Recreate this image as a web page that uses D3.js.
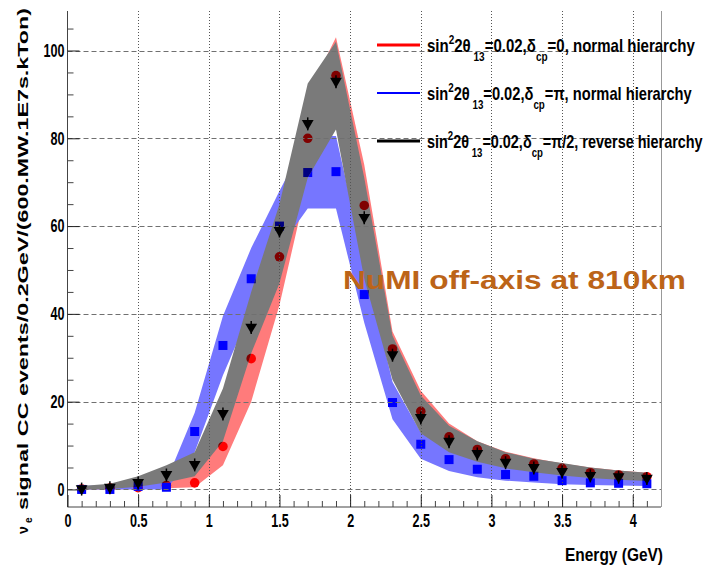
<!DOCTYPE html>
<html>
<head>
<meta charset="utf-8">
<script src="https://cdn.jsdelivr.net/npm/d3@7/dist/d3.min.js"></script>
<style>
  html, body { margin: 0; padding: 0; background: #fff; }
  svg { display: block; }
  text { font-family: "Liberation Sans", Arial, sans-serif; font-weight: bold; }
</style>
</head>
<body>
<svg id="chart" width="710" height="566"></svg>
<script>
// Bin centres (GeV), 0.2 GeV bins
const energy = [0.1, 0.3, 0.5, 0.7, 0.9, 1.1, 1.3, 1.5, 1.7, 1.9, 2.1, 2.3, 2.5, 2.7, 2.9, 3.1, 3.3, 3.5, 3.7, 3.9, 4.1];

// sin^2 2θ13 = 0.02, δcp = 0, normal hierarchy
const redVals = [0.1, 0.3, 0.4, 0.9, 1.5, 9.8, 29.8, 53, 80, 94.3, 64.7, 32, 17.8, 12, 9.1, 7, 5.8, 4.8, 3.8, 3.3, 2.9];
const redLo   = [0, 0, 0.1, 0.3, 0.5, 5.5, 20, 42, 70, 84, 56, 27, 14.5, 9.5, 7, 5.4, 4.4, 3.6, 2.9, 2.5, 2.2];
const redHi   = [0.5, 0.8, 1, 1.8, 4, 14, 37, 61, 90, 103, 74, 36, 22.5, 15, 11, 8.6, 7.1, 5.9, 5, 4.3, 3.8];

// sin^2 2θ13 = 0.02, δcp = π, normal hierarchy
const blueVals = [0, 0, 0.7, 0.5, 13.2, 32.8, 48, 60, 72.2, 72.4, 44.4, 19.8, 10.3, 6.8, 4.6, 3.4, 3, 2, 1.5, 1.4, 1.3];
const blueLo   = [0, 0, 0, 0, 8.5, 26, 41, 55, 64, 64, 38, 16, 7, 4.2, 2.8, 2, 1.6, 1.2, 1, 0.9, 0.8];
const blueHi   = [0.8, 1, 1.5, 2, 17.5, 39.5, 55, 68, 80.5, 80.5, 52, 24.5, 13, 9, 6.5, 5, 4.2, 3.6, 3, 2.6, 2.4];

// sin^2 2θ13 = 0.02, δcp = π/2, reverse hierarchy
const blackVals = [0.2, 0.5, 1.6, 3.4, 5.7, 17.3, 37, 59, 83.4, 93, 62, 30.7, 16.4, 11, 8.2, 6.2, 5, 4.1, 3.2, 2.9, 2.6];
const blackLo   = [0, 0.1, 0.6, 1.6, 3, 11, 31, 47, 71, 82, 48, 25, 12.8, 8.5, 6.3, 4.8, 3.9, 3.2, 2.6, 2.2, 1.9];
const blackHi   = [0.8, 1.3, 3, 5.5, 8.5, 23, 45, 65, 92.5, 102, 71, 35, 21.4, 14.5, 11, 8.5, 7, 6, 5, 4.3, 3.8];

// Axis ticks
const xMajor = [0, 0.5, 1, 1.5, 2, 2.5, 3, 3.5, 4];
const yMajor = [0, 20, 40, 60, 80, 100];

const legendLabels = [
  { parts: ["sin", "2", "2θ", "13", "=0.02,δ", "cp", "=0, normal hierarchy"], color: "#ff0000", width: 3, len: 268 },
  { parts: ["sin", "2", "2θ", "13", "=0.02,δ", "cp", "=π, normal hierarchy"], color: "#0000ff", width: 2, len: 265 },
  { parts: ["sin", "2", "2θ", "13", "=0.02,δ", "cp", "=π/2, reverse hierarchy"], color: "#000000", width: 3, len: 276 }
];

const svg = d3.select("#chart");
const L = 67.5, R = 661, T = 11, B = 507;

const x = d3.scaleLinear().domain([0, 4.2]).range([L, R]);
const y = d3.scaleLinear().domain([-4, 109]).range([B, T]);

const series = (vals, lo, hi) => energy.map((e, i) => ({ e, v: vals[i], lo: lo[i], hi: hi[i] }));
const red = series(redVals, redLo, redHi);
const blue = series(blueVals, blueLo, blueHi);
const black = series(blackVals, blackLo, blackHi);

const area = d3.area().x(d => x(d.e)).y0(d => y(d.lo)).y1(d => y(d.hi));

// Region covered by the grey band, used to shade markers lying beneath it
svg.append("defs").append("clipPath").attr("id", "greyBand")
  .append("path").datum(black).attr("d", area);

// Bands
svg.append("path").datum(red).attr("d", area).attr("fill", "#ff7b7b");
svg.append("path").datum(blue).attr("d", area).attr("fill", "#7676ff");

// Red and blue markers
function drawMarkers(g, redFill, blueFill) {
  g.append("g").selectAll("circle").data(red).join("circle")
    .attr("cx", d => x(d.e)).attr("cy", d => y(d.v)).attr("r", 4.8).attr("fill", redFill);
  g.append("g").selectAll("rect").data(blue).join("rect")
    .attr("x", d => x(d.e) - 4.5).attr("y", d => y(d.v) - 4.5).attr("width", 9).attr("height", 9).attr("fill", blueFill);
}
drawMarkers(svg.append("g"), "#ff0000", "#0000ff");

// Grey band on top; markers underneath show through darkened
svg.append("path").datum(black).attr("d", area).attr("fill", "#7a7a7a");
drawMarkers(svg.append("g").attr("clip-path", "url(#greyBand)"), "#800000", "#000080");

// Grid
const grid = svg.append("g");
grid.selectAll("line.h").data(yMajor).join("line")
  .attr("x1", L).attr("x2", R).attr("y1", d => Math.round(y(d)) + 0.5).attr("y2", d => Math.round(y(d)) + 0.5)
  .attr("stroke", "#707070").attr("stroke-width", 1).attr("stroke-dasharray", "5,3");
grid.selectAll("line.v").data(xMajor.filter(d => d > 0)).join("line")
  .attr("x1", d => Math.round(x(d)) + 0.5).attr("x2", d => Math.round(x(d)) + 0.5)
  .attr("y1", T).attr("y2", B)
  .attr("stroke", "#555").attr("stroke-width", 1).attr("stroke-dasharray", "1,2");

// Black markers with short error bars
const gB = svg.append("g");
gB.selectAll("line").data(black).join("line")
  .attr("x1", d => x(d.e)).attr("x2", d => x(d.e))
  .attr("y1", d => y(d.v) - 6).attr("y2", d => y(d.v) + 7)
  .attr("stroke", "#000").attr("stroke-width", 1.5);
gB.selectAll("path").data(black).join("path")
  .attr("d", d3.symbol(d3.symbolTriangle, 60))
  .attr("transform", d => `translate(${x(d.e)},${y(d.v)}) rotate(180)`)
  .attr("fill", "#000");

// Axes
const condense = (sel, k, origin) => sel.style("transform-box", "fill-box")
  .style("transform-origin", origin).style("transform", `scaleX(${k})`);

const yAxis = svg.append("g").attr("transform", `translate(${L},0)`)
  .call(d3.axisLeft(y).tickValues(yMajor).tickSize(-12).tickPadding(3).tickFormat(d3.format("d")));
yAxis.select(".domain").attr("d", `M0,${T}V${B}`).attr("stroke", "#444");
yAxis.selectAll(".tick line").attr("stroke", "#222");
yAxis.selectAll(".tick text").attr("font-size", 18).attr("fill", "#000");
condense(yAxis.selectAll(".tick text"), 0.7, "right center");

const yMinor = d3.range(0, 110, 5).filter(v => v % 20 !== 0);
svg.append("g").attr("transform", `translate(${L},0)`)
  .call(d3.axisLeft(y).tickValues(yMinor).tickSize(-6).tickFormat(""))
  .call(g => g.select(".domain").remove())
  .selectAll(".tick line").attr("stroke", "#444");

const xAxis = svg.append("g").attr("transform", `translate(0,${B})`)
  .call(d3.axisBottom(x).tickValues(xMajor).tickSize(-12).tickPadding(7).tickFormat(d3.format("~g")));
xAxis.select(".domain").attr("d", `M${L},0H${R}`).attr("stroke", "#444");
xAxis.selectAll(".tick line").attr("stroke", "#222");
xAxis.selectAll(".tick text").attr("font-size", 18).attr("fill", "#000");
condense(xAxis.selectAll(".tick text"), 0.7, "center");

const xMinor = d3.range(1, 42).map(i => i / 10).filter(v => Math.abs(v * 2 - Math.round(v * 2)) > 1e-6);
svg.append("g").attr("transform", `translate(0,${B})`)
  .call(d3.axisBottom(x).tickValues(xMinor).tickSize(-6).tickFormat(""))
  .call(g => g.select(".domain").remove())
  .selectAll(".tick line").attr("stroke", "#444");

// Right frame edge
svg.append("line").attr("x1", R + 0.5).attr("x2", R + 0.5).attr("y1", T).attr("y2", B)
  .attr("stroke", "#999");

// Axis titles
svg.append("text").attr("x", R + 2).attr("y", 561).attr("text-anchor", "end")
  .attr("font-size", 18).attr("textLength", 98).attr("lengthAdjust", "spacingAndGlyphs")
  .text("Energy (GeV)");

const yt = svg.append("g").attr("transform", "translate(28,0)");
yt.append("text").attr("transform", "translate(0,510) rotate(-90)")
  .attr("font-size", 14).attr("textLength", 502).attr("lengthAdjust", "spacingAndGlyphs")
  .text("signal CC events/0.2GeV/(600.MW.1E7s.kTon)");
yt.append("text").attr("transform", "translate(0,534) rotate(-90)")
  .attr("font-size", 14).text("ν");
yt.append("text").attr("transform", "translate(4,523) rotate(-90)")
  .attr("font-size", 10).text("e");

// Annotation
svg.append("text").attr("x", 343).attr("y", 289)
  .attr("font-size", 25).attr("fill", "#bc6418")
  .attr("textLength", 343).attr("lengthAdjust", "spacingAndGlyphs")
  .text("NuMI off-axis at 810km");

// Legend: narrow bold labels, squeezed horizontally to their box width
const lg = svg.append("g");
legendLabels.forEach((item, i) => {
  const ly = 45 + i * 48;
  lg.append("line").attr("x1", 377).attr("x2", 420).attr("y1", ly).attr("y2", ly)
    .attr("stroke", item.color).attr("stroke-width", item.width);
  const g = lg.append("g");
  const t = g.append("text").attr("x", 0).attr("y", 0).attr("font-size", 18);
  const p = item.parts;
  t.append("tspan").text(p[0]);
  t.append("tspan").attr("dy", -8).attr("font-size", 12).text(p[1]);
  t.append("tspan").attr("dy", 8).text(p[2]);
  t.append("tspan").attr("dy", 9).attr("font-size", 12).text(" " + p[3]);
  t.append("tspan").attr("dy", -9).text(p[4]);
  t.append("tspan").attr("dy", 9).attr("font-size", 12).text(p[5]);
  t.append("tspan").attr("dy", -9).text(p[6]);
  const natural = t.node().getComputedTextLength();
  g.attr("transform", `translate(427,${ly + 7}) scale(${item.len / natural},1)`);
});
</script>
</body>
</html>
